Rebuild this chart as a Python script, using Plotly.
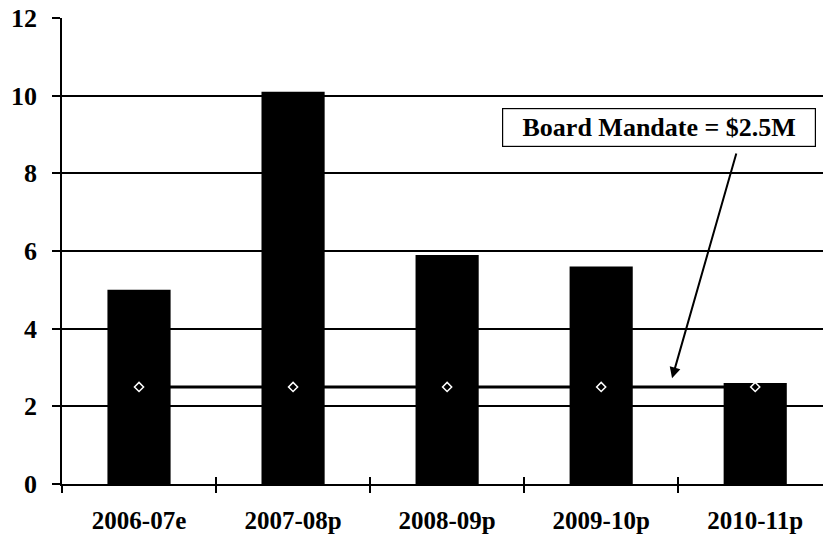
import plotly.graph_objects as go

# data
years = ["2006-07e", "2007-08p", "2008-09p", "2009-10p", "2010-11p"]
spending = [5.0, 10.1, 5.9, 5.6, 2.6]
mandate = [2.5, 2.5, 2.5, 2.5, 2.5]
y_ticks = [0, 2, 4, 6, 8, 10, 12]

serif = "Liberation Serif"

fig = go.Figure()

fig.add_trace(
    go.Bar(
        x=years,
        y=spending,
        marker=dict(color="black", line=dict(width=0)),
        width=0.41,
        showlegend=False,
    )
)

# board mandate line with hollow diamond markers
fig.add_trace(
    go.Scatter(
        x=years,
        y=mandate,
        mode="lines+markers",
        line=dict(color="black", width=3),
        marker=dict(symbol="diamond", size=7, color="black",
                    line=dict(color="white", width=1.5)),
        showlegend=False,
    )
)

# second x axis only to draw the upper half of the crossing tick marks
fig.add_trace(go.Scatter(x=years, y=[None] * 5, xaxis="x2", showlegend=False))

annotations = [
    dict(
        x=0.785, y=0.765, xref="paper", yref="paper",
        xanchor="center", yanchor="middle",
        text="<b>Board Mandate = $2.5M</b>",
        showarrow=False, width=304, align="center",
        font=dict(family=serif, size=26, color="black"),
        bgcolor="white", bordercolor="black", borderwidth=1.2, borderpad=4,
    ),
    dict(
        x=3.46, y=2.72, xref="x", yref="y",
        ax=3.88, ay=8.55, axref="x", ayref="y",
        text="", showarrow=True,
        arrowhead=2, arrowsize=1.1, arrowwidth=2, arrowcolor="black",
    ),
]

fig.update_layout(
    width=823,
    height=539,
    margin=dict(l=62, r=0, t=18, b=55),
    plot_bgcolor="white",
    paper_bgcolor="white",
    annotations=annotations,
    xaxis=dict(
        range=[-0.5, 4.44],
        showgrid=False,
        showline=True, linecolor="black", linewidth=1.5,
        ticks="outside", tickson="boundaries", ticklen=7,
        tickcolor="black", tickwidth=1.5,
        tickfont=dict(family=serif, size=25, color="black", weight="bold"),
        ticklabelstandoff=13,
    ),
    xaxis2=dict(
        overlaying="x", matches="x", side="bottom", anchor="y",
        showgrid=False, showticklabels=False, showline=False,
        ticks="inside", tickson="boundaries", ticklen=7,
        tickcolor="black", tickwidth=1.5,
    ),
    yaxis=dict(
        range=[0, 12],
        tickvals=y_ticks,
        showgrid=True, gridcolor="black", gridwidth=1.5,
        zeroline=False,
        showline=True, linecolor="black", linewidth=1.5,
        ticks="outside", ticklen=8, tickcolor="black", tickwidth=1.5,
        tickfont=dict(family=serif, size=26, color="black", weight="bold"),
        ticklabelstandoff=10,
    ),
)

fig.write_html(
    "out.html",
    config={"displayModeBar": False},
    post_script="document.body.style.margin='0';",
)
